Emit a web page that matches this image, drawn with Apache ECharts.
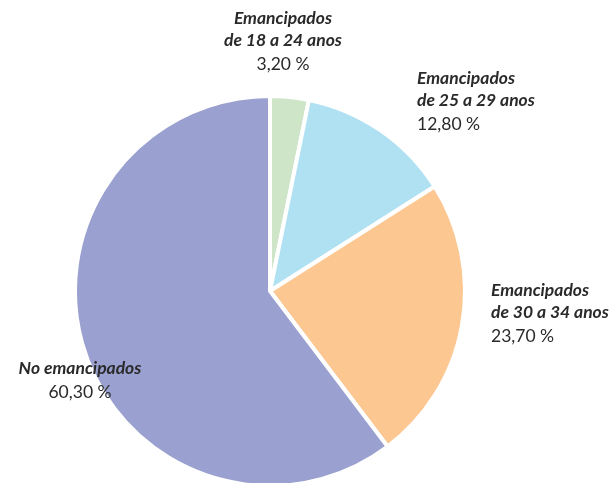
<!DOCTYPE html>
<html><head><meta charset="utf-8">
<script src="https://cdn.jsdelivr.net/npm/echarts@6/dist/echarts.min.js"></script>
<style>html,body{margin:0;padding:0;background:#fff}#c{width:609px;height:483px}</style>
</head><body><div id="c"></div>
<script>
var categories = ["Emancipados\nde 18 a 24 anos", "Emancipados\nde 25 a 29 anos", "Emancipados\nde 30 a 34 anos", "No emancipados"];
var values = [3.20, 12.80, 23.70, 60.30];
var colors = ["#cfe5c8", "#b0e1f3", "#fcc790", "#9aa0cf"];
var labelAnchors = [
  {x: 283, y: 7, align: 'center'},
  {x: 417, y: 67, align: 'left'},
  {x: 491, y: 279, align: 'left'},
  {x: 80, y: 357, align: 'center'}
];
var chart = echarts.init(document.getElementById('c'), null, {renderer: 'canvas'});
var data = categories.map(function (c, i) {
  return {name: c, value: values[i], itemStyle: {color: colors[i]}};
});
chart.setOption({
  animation: false,
  series: [{
    type: 'pie',
    center: [270, 291],
    radius: [0, 195],
    startAngle: 90,
    clockwise: true,
    data: data,
    itemStyle: {borderColor: '#fff', borderWidth: 4},
    labelLine: {show: false},
    label: {
      show: true,
      position: 'outside',
      overflow: 'none',
      fontFamily: 'Lato',
      color: '#2a2a2a',
      formatter: function (p) {
        var lines = p.name.split('\n').map(function (l) { return '{b|' + l + '}'; });
        return lines.join('\n') + '\n{p|' + p.value.toFixed(2).replace('.', ',') + ' %}';
      },
      rich: {
        b: {fontFamily: 'Lato', fontWeight: 'bold', fontStyle: 'italic', fontSize: 17.5, lineHeight: 22, color: '#2a2a2a'},
        p: {fontFamily: 'Lato', fontSize: 17.5, lineHeight: 26, color: '#2a2a2a'}
      }
    },
    labelLayout: function (params) {
      var a = labelAnchors[params.dataIndex];
      return {x: a.x, y: a.y, align: a.align, verticalAlign: 'top'};
    }
  }]
});
</script></body></html>
